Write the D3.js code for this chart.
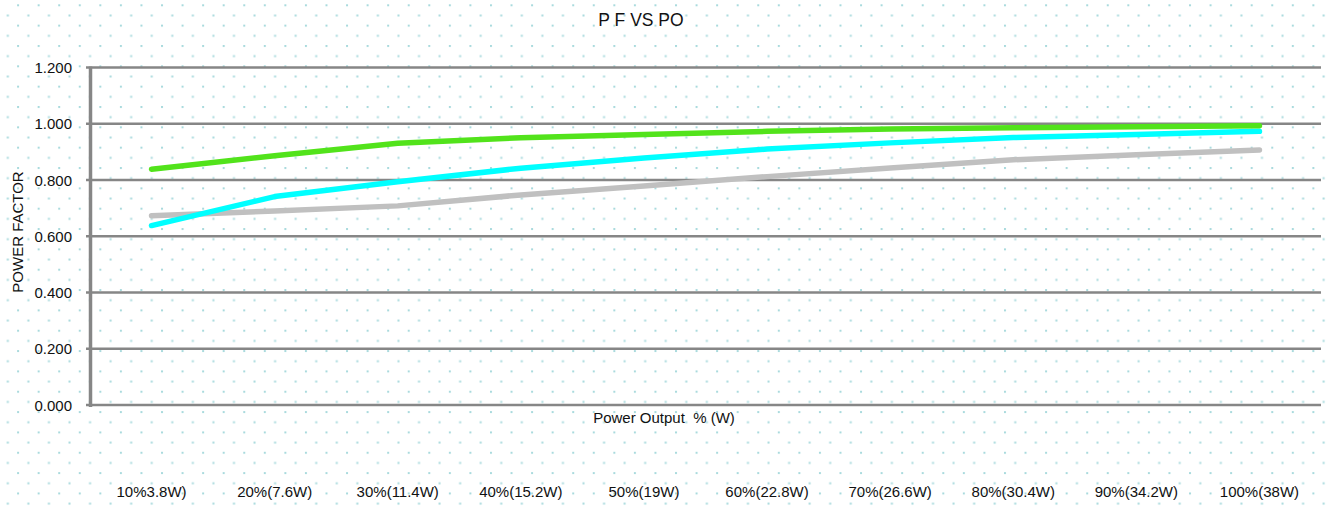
<!DOCTYPE html>
<html>
<head>
<meta charset="utf-8">
<script src="https://cdn.jsdelivr.net/npm/d3@7"></script>
<style>
  body { margin: 0; background: #fff; }
  svg { display: block; font-family: "Liberation Sans", Arial, sans-serif; }
</style>
</head>
<body>
<script>
const categories = ["10%3.8W)", "20%(7.6W)", "30%(11.4W)", "40%(15.2W)", "50%(19W)",
                    "60%(22.8W)", "70%(26.6W)", "80%(30.4W)", "90%(34.2W)", "100%(38W)"];
const seriesGreen = [0.838, 0.886, 0.931, 0.950, 0.962, 0.973, 0.981, 0.986, 0.989, 0.993];
const seriesCyan  = [0.638, 0.741, 0.794, 0.842, 0.878, 0.910, 0.932, 0.951, 0.962, 0.973];
const seriesGray  = [0.673, 0.690, 0.708, 0.747, 0.779, 0.812, 0.843, 0.872, 0.890, 0.907];
const yTicks = [0, 0.2, 0.4, 0.6, 0.8, 1.0, 1.2];

const width = 1330, height = 506;

const svg = d3.select("body").append("svg")
    .attr("width", width)
    .attr("height", height);

// dotted background
const pat = svg.append("defs").append("pattern")
    .attr("id", "dots")
    .attr("patternUnits", "userSpaceOnUse")
    .attr("x", 17.1).attr("y", 4.3)
    .attr("width", 20.56).attr("height", 20.34);
pat.append("rect").attr("x", 0).attr("y", 0).attr("width", 2).attr("height", 2).attr("fill", "#a9dadd");
pat.append("rect").attr("x", 10.28).attr("y", 10.17).attr("width", 2).attr("height", 2).attr("fill", "#a9dadd");
svg.append("rect").attr("width", width).attr("height", height).attr("fill", "url(#dots)");

const x = d3.scaleBand().domain(categories).range([90, 1321]);
const y = d3.scaleLinear().domain([0, 1.2]).range([405, 67.5]);

// grid lines
svg.append("g").selectAll("line")
    .data(yTicks)
    .enter().append("line")
    .attr("x1", 86).attr("x2", 1321)
    .attr("y1", d => y(d)).attr("y2", d => y(d))
    .attr("stroke", "#868686")
    .attr("stroke-width", 2.5);

// y axis line
svg.append("line")
    .attr("x1", 90.5).attr("x2", 90.5)
    .attr("y1", y(1.2) - 1).attr("y2", y(0) + 2)
    .attr("stroke", "#868686")
    .attr("stroke-width", 3.5);

// y tick labels
svg.append("g").selectAll("text")
    .data(yTicks)
    .enter().append("text")
    .attr("x", 72)
    .attr("y", d => y(d) + 5.5)
    .attr("text-anchor", "end")
    .attr("font-size", 15)
    .attr("fill", "#111")
    .text(d => d.toFixed(3));

// x labels
svg.append("g").selectAll("text")
    .data(categories)
    .enter().append("text")
    .attr("x", d => x(d) + x.bandwidth() / 2)
    .attr("y", 497)
    .attr("text-anchor", "middle")
    .attr("font-size", 15)
    .attr("fill", "#111")
    .text(d => d);

// titles
svg.append("text")
    .attr("x", 641).attr("y", 25.5)
    .attr("text-anchor", "middle")
    .attr("font-size", 17.5)
    .attr("fill", "#111")
    .text("P F VS PO");

svg.append("text")
    .attr("x", 664).attr("y", 423)
    .attr("text-anchor", "middle")
    .attr("font-size", 15)
    .attr("fill", "#111")
    .style("white-space", "pre")
    .text("Power Output  % (W)");

svg.append("text")
    .attr("transform", "translate(23,232) rotate(-90)")
    .attr("text-anchor", "middle")
    .attr("font-size", 15)
    .attr("fill", "#111")
    .text("POWER FACTOR");

// series lines
const line = d3.line()
    .x((d, i) => x(categories[i]) + x.bandwidth() / 2)
    .y(d => y(d));

const series = [
    {values: seriesGray, color: "#c0c0c0"},
    {values: seriesCyan, color: "#00ffff"},
    {values: seriesGreen, color: "#52e31b"}
];

svg.append("g").selectAll("path")
    .data(series)
    .enter().append("path")
    .attr("d", d => line(d.values))
    .attr("fill", "none")
    .attr("stroke", d => d.color)
    .attr("stroke-width", 5.5)
    .attr("stroke-linecap", "round")
    .attr("stroke-linejoin", "round");
</script>
</body>
</html>
